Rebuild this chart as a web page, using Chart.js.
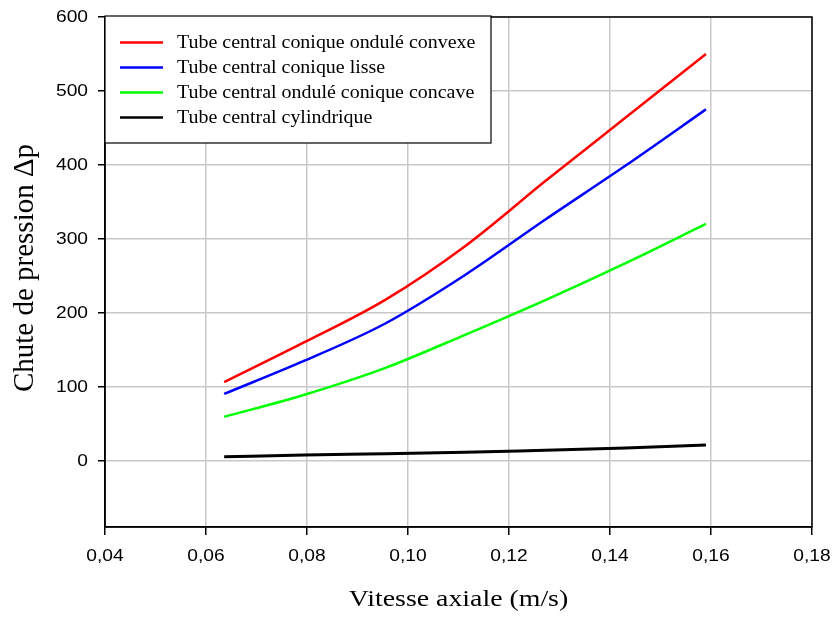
<!DOCTYPE html>
<html>
<head>
<meta charset="utf-8">
<script src="https://cdn.jsdelivr.net/npm/chart.js@4/dist/chart.umd.min.js"></script>
<style>
  html, body { margin: 0; padding: 0; background: #fff; }
  #wrap { width: 833px; height: 617px; }
</style>
</head>
<body>
<div id="wrap"><canvas id="pressureChart" width="833" height="617"></canvas></div>
<script>
// Axial velocity (m/s)
const vitesse = [0.0636, 0.0795, 0.0954, 0.1113, 0.1272, 0.1431, 0.159];

// Pressure drop for each central tube shape
const convexe = [106, 160, 217, 290, 378, 464, 550];
const lisse = [90, 135, 185, 251, 326, 399, 475];
const concave = [59, 89, 125, 170, 217, 267, 320];
const cylindrique = [5, 7.5, 9, 11, 14, 17, 21];

const seriesLabels = [
    'Tube central conique ondulé convexe',
    'Tube central conique lisse',
    'Tube central ondulé conique concave',
    'Tube central cylindrique'
];

// Tick labels
const xTicks = [0.04, 0.06, 0.08, 0.10, 0.12, 0.14, 0.16, 0.18];
const xTickLabels = ['0,04', '0,06', '0,08', '0,10', '0,12', '0,14', '0,16', '0,18'];
const yTicks = [0, 100, 200, 300, 400, 500, 600];
const yTickLabels = ['0', '100', '200', '300', '400', '500', '600'];

const SANS = '"Liberation Sans", Arial, sans-serif';
const SERIF = '"Liberation Serif", "Times New Roman", serif';

function toPoints(values) {
    return vitesse.map((v, i) => ({ x: v, y: values[i] }));
}

// the original figure's text is a bit wider than normal, draw it stretched
function wideText(ctx, text, x, y, sx, align) {
    ctx.save();
    ctx.translate(x, y);
    ctx.scale(sx, 1);
    ctx.textAlign = align;
    ctx.fillText(text, 0, 0);
    ctx.restore();
}

// Frame, tick labels, titles and legend box
const framePlugin = {
    id: 'frame',
    afterDraw(chart) {
        const ctx = chart.ctx;
        const area = chart.chartArea;
        const xs = chart.scales.x, ys = chart.scales.y;
        ctx.save();
        ctx.strokeStyle = '#000';
        ctx.lineWidth = 1.5;
        ctx.strokeRect(area.left, area.top, area.right - area.left, area.bottom - area.top);

        // tick labels
        ctx.fillStyle = '#000';
        ctx.font = '16px ' + SANS;
        ctx.textBaseline = 'middle';
        xTicks.forEach((v, i) => {
            wideText(ctx, xTickLabels[i], xs.getPixelForValue(v), 557, 1.2, 'center');
        });
        yTicks.forEach((v, i) => {
            wideText(ctx, yTickLabels[i], 88, ys.getPixelForValue(v) + 1, 1.2, 'right');
        });

        // axis titles
        ctx.font = '24px ' + SERIF;
        ctx.textBaseline = 'alphabetic';
        wideText(ctx, 'Vitesse axiale (m/s)', (area.left + area.right) / 2, 606, 1.16, 'center');
        ctx.save();
        ctx.translate(33, 268);
        ctx.rotate(-Math.PI / 2);
        ctx.font = '29px ' + SERIF;
        ctx.textAlign = 'center';
        ctx.fillText('Chute de pression \u0394p', 0, 0);
        ctx.restore();

        // legend
        const bx = area.left, by = area.top - 1, bw = 386, bh = 127;
        ctx.fillStyle = '#fff';
        ctx.fillRect(bx, by, bw, bh);
        ctx.lineWidth = 1.2;
        ctx.strokeRect(bx, by, bw, bh);
        ctx.font = '19px ' + SERIF;
        ctx.textBaseline = 'middle';
        chart.data.datasets.forEach((ds, i) => {
            const y = by + 26.5 + i * 25;
            ctx.strokeStyle = ds.borderColor;
            ctx.lineWidth = 2.5;
            ctx.beginPath();
            ctx.moveTo(bx + 15, y);
            ctx.lineTo(bx + 58, y);
            ctx.stroke();
            ctx.fillStyle = '#000';
            wideText(ctx, ds.label, bx + 72, y + 1, 1.05, 'left');
        });
        ctx.restore();
    }
};

const colors = ['#ff0000', '#0000ff', '#00ff00', '#000000'];
const allSeries = [convexe, lisse, concave, cylindrique];

new Chart(document.getElementById('pressureChart'), {
    type: 'line',
    data: {
        datasets: allSeries.map((s, i) => ({
            label: seriesLabels[i],
            data: toPoints(s),
            borderColor: colors[i],
            borderWidth: i === 3 ? 3 : 2.5,
            pointRadius: 0,
            cubicInterpolationMode: 'monotone',
            fill: false
        }))
    },
    options: {
        responsive: false,
        animation: false,
        layout: { padding: { top: 17, right: 21, left: 0, bottom: 0 } },
        plugins: {
            legend: { display: false },
            tooltip: { enabled: false }
        },
        scales: {
            x: {
                type: 'linear',
                min: 0.04,
                max: 0.18,
                afterBuildTicks: (scale) => { scale.ticks = xTicks.map(v => ({ value: v })); },
                afterFit: (scale) => { scale.height = 90; },
                grid: {
                    color: '#c8c8c8',
                    lineWidth: 1.5,
                    tickColor: '#000',
                    tickLength: 8
                },
                border: { color: '#000', width: 1.5 },
                ticks: { display: false }
            },
            y: {
                min: -90,
                max: 600,
                afterBuildTicks: (scale) => { scale.ticks = yTicks.map(v => ({ value: v })); },
                afterFit: (scale) => { scale.width = 105; },
                grid: {
                    color: '#c8c8c8',
                    lineWidth: 1.5,
                    tickColor: '#000',
                    tickLength: 7
                },
                border: { color: '#000', width: 1.5 },
                ticks: { display: false }
            }
        }
    },
    plugins: [framePlugin]
});
</script>
</body>
</html>
